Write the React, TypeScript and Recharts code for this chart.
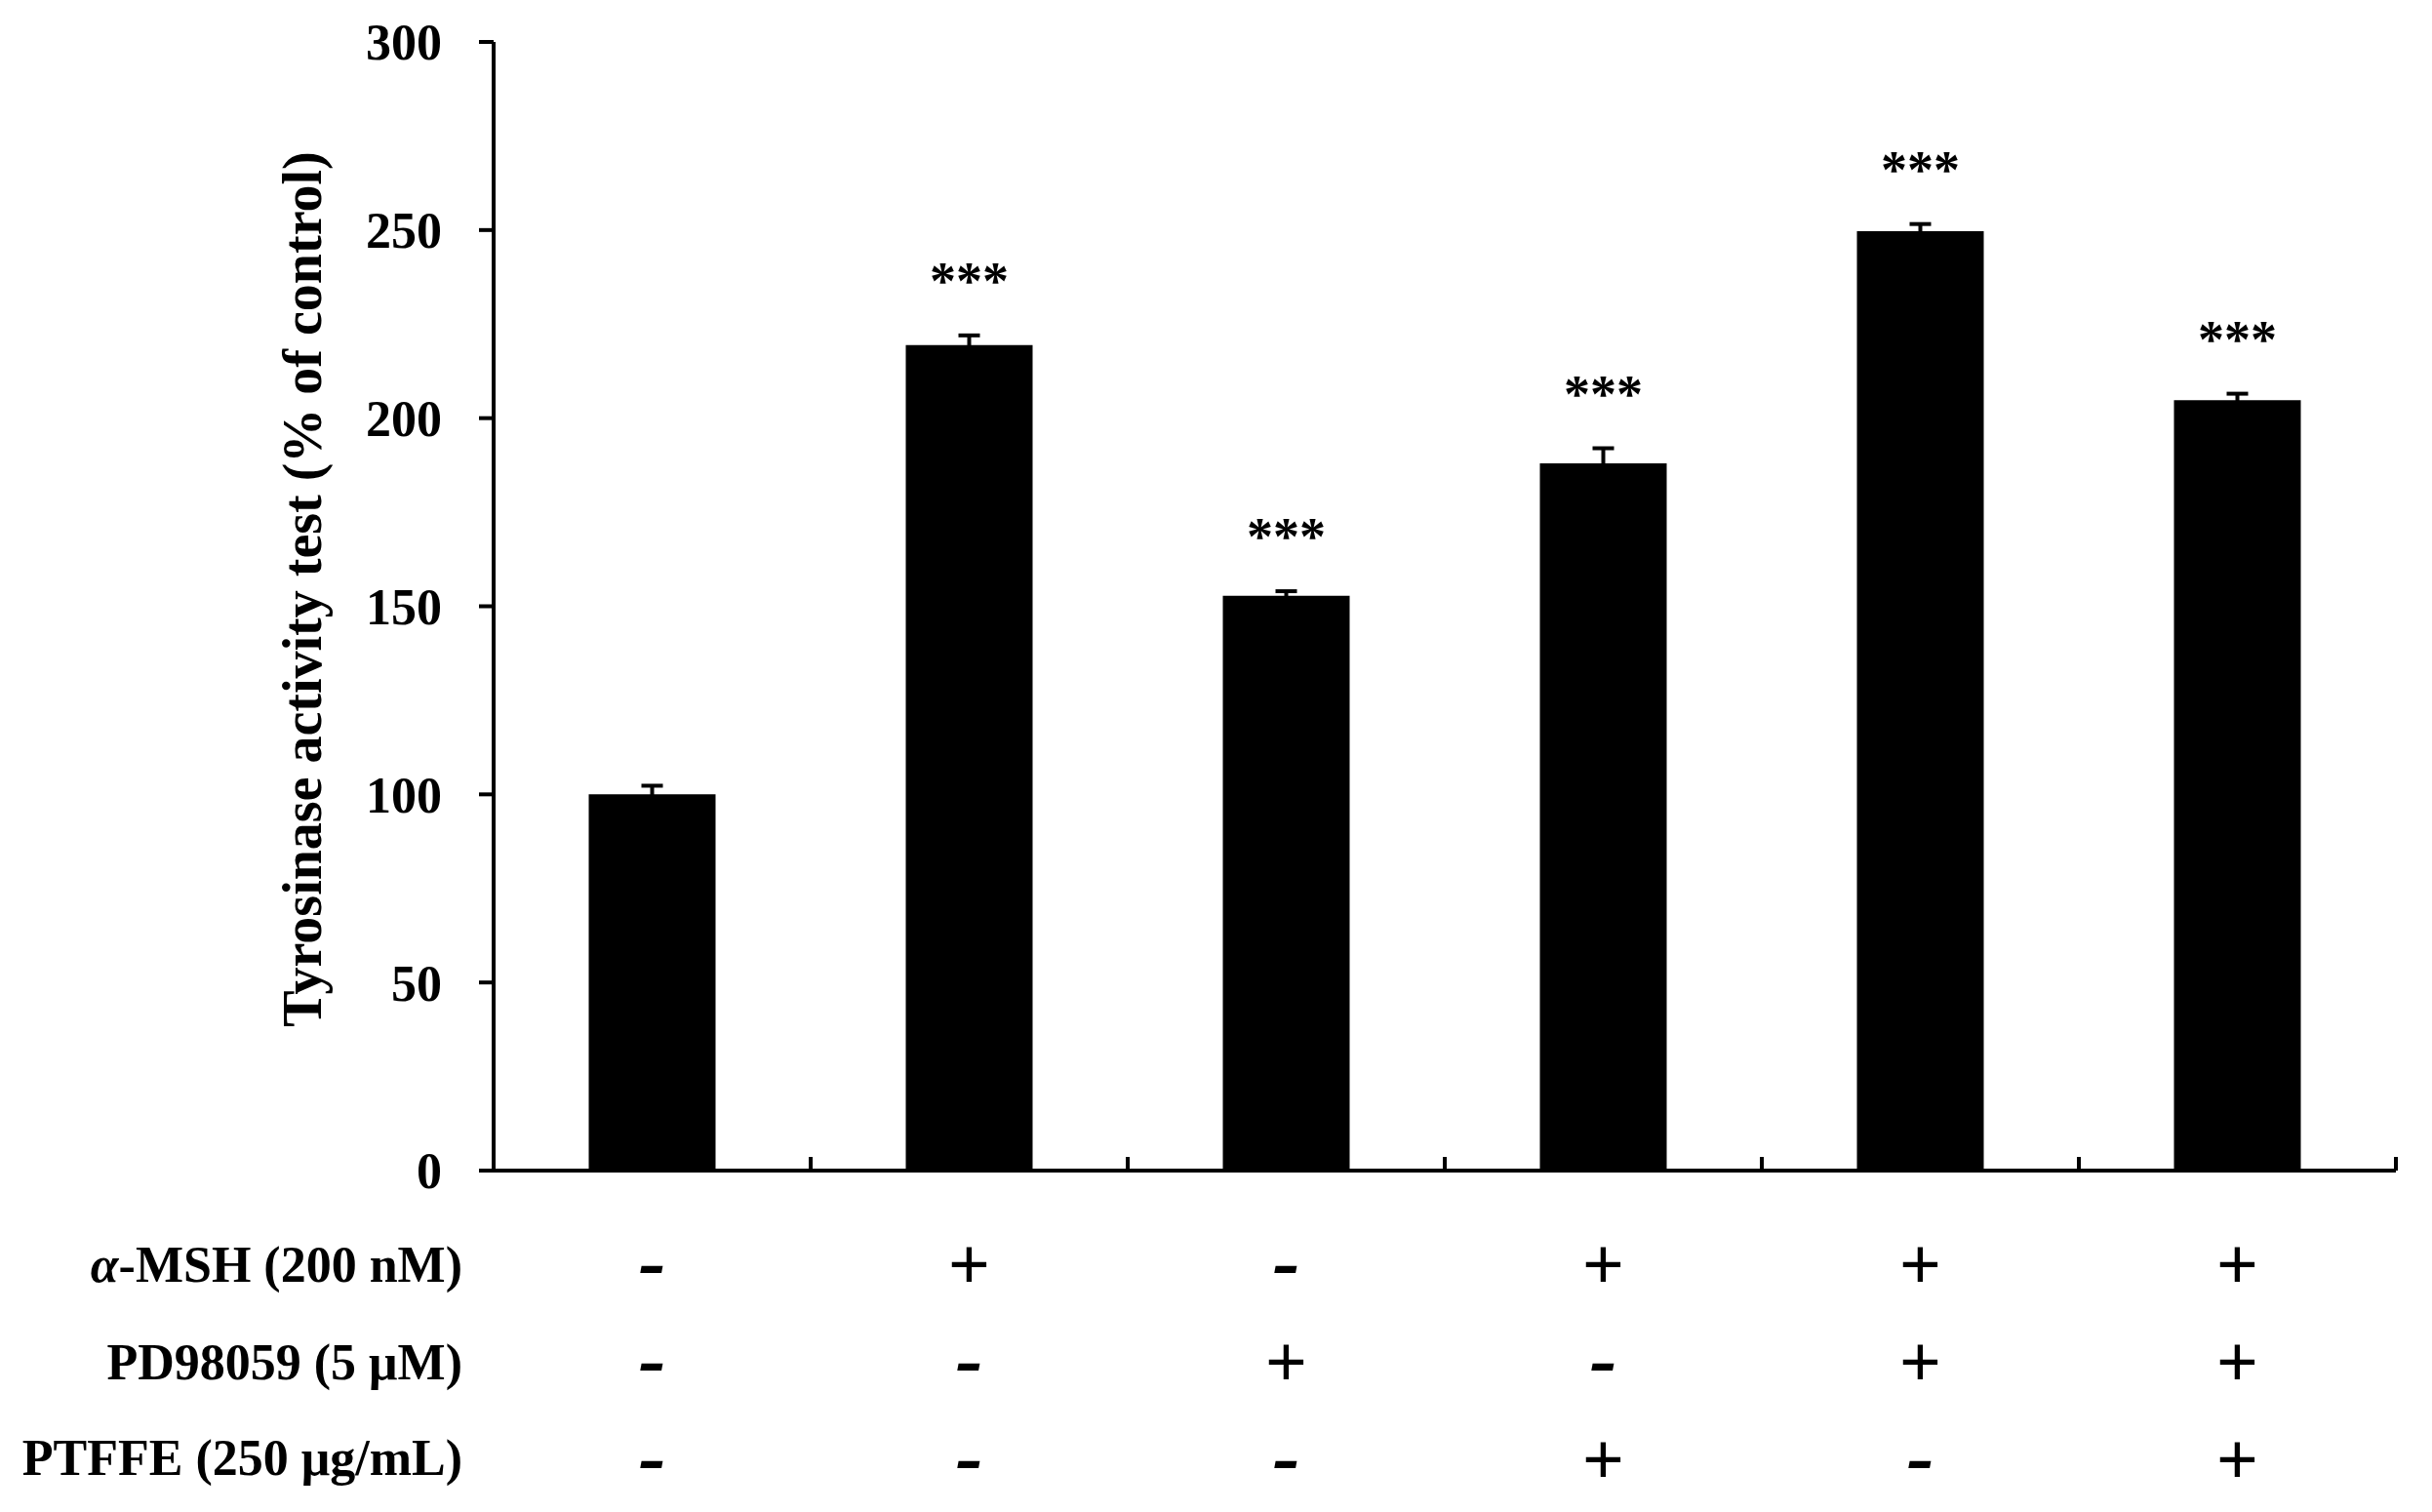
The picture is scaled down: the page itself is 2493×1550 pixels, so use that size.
import React from "react";
import {
  BarChart,
  Bar,
  XAxis,
  YAxis,
  ErrorBar,
  LabelList,
  Label,
} from "recharts";

const groups = ["1", "2", "3", "4", "5", "6"];
const activity = [100, 219.4, 152.8, 188, 249.7, 204.8];
const sem = [2.3, 2.6, 1.2, 4, 1.9, 1.7];
const signif = ["", "***", "***", "***", "***", "***"];

const msh = ["-", "+", "-", "+", "+", "+"];
const pd98059 = ["-", "-", "+", "-", "+", "+"];
const ptffe = ["-", "-", "-", "+", "-", "+"];

const yTicks = [0, 50, 100, 150, 200, 250, 300];

const data = groups.map((g, i) => ({
  group: g,
  activity: activity[i],
  sem: sem[i],
  sig: signif[i],
  msh: msh[i],
  pd: pd98059[i],
  ptffe: ptffe[i],
}));

const FONT = '"Liberation Serif", "Times New Roman", serif';

// tick marks sit on the category borders and point up into the plot
const BorderTick = (props: any) => {
  const { x, y, payload, index } = props;
  const half = payload && payload.offset ? payload.offset : 162.5;
  return (
    <g>
      <line x1={x - half} x2={x - half} y1={y} y2={y - 14} stroke="#000" strokeWidth={4} />
      {index === groups.length - 1 && (
        <line x1={x + half} x2={x + half} y1={y} y2={y - 14} stroke="#000" strokeWidth={4} />
      )}
    </g>
  );
};

const SignTick = (props: any) => {
  const { x, y, payload } = props;
  const plus = payload.value === "+";
  return (
    <text
      x={x}
      y={y + (plus ? 42 : 38)}
      textAnchor="middle"
      dominantBaseline="central"
      fontFamily={FONT}
      fontWeight={700}
      fontStyle={plus ? "normal" : "italic"}
      fontSize={plus ? 76 : 84}
      fill="#000"
    >
      {payload.value}
    </text>
  );
};

const rowTitle = (title: React.ReactNode) => (props: any) => {
  const vb = props.viewBox || {};
  return (
    <text
      x={vb.x - 32}
      y={vb.y + vb.height / 2}
      textAnchor="end"
      dominantBaseline="central"
      fontFamily={FONT}
      fontWeight={700}
      fontSize={52}
      fill="#000"
    >
      {title}
    </text>
  );
};

const Stars = (props: any) => {
  const { x, y, width, height, value, index } = props;
  if (!value) return null;
  const errPx = (sem[index] * height) / activity[index];
  return (
    <text
      x={x + width / 2}
      y={y - errPx - 38}
      textAnchor="middle"
      fontFamily={FONT}
      fontWeight={700}
      fontSize={54}
      fill="#000"
    >
      {value}
    </text>
  );
};

export default function App() {
  return (
    <div style={{ width: 2477, height: 1534, background: "#fff" }}>
      <BarChart
        width={2477}
        height={1534}
        data={data}
        margin={{ top: 35, right: 29, left: 0, bottom: 0 }}
        barCategoryGap="30%"
      >
        <YAxis
          width={498}
          domain={[0, 300]}
          ticks={yTicks}
          interval={0}
          axisLine={{ stroke: "#000", strokeWidth: 4 }}
          tickLine={{ stroke: "#000", strokeWidth: 4 }}
          tickSize={15}
          tickMargin={38}
          tick={{ fontFamily: FONT, fontWeight: 700, fontSize: 52, fill: "#000" }}
        >
          <Label
            content={() => (
              <text
                transform="translate(302, 596) rotate(-90)"
                textAnchor="middle"
                dominantBaseline="central"
                fontFamily={FONT}
                fontWeight={700}
                fontSize={56}
                fill="#000"
              >
                Tyrosinase activity test (% of control)
              </text>
            )}
          />
        </YAxis>
        <XAxis
          xAxisId={0}
          dataKey="group"
          height={46}
          interval={0}
          tickLine={false}
          tickSize={0}
          tickMargin={0}
          axisLine={{ stroke: "#000", strokeWidth: 4 }}
          tick={<BorderTick />}
        />
        <XAxis
          xAxisId="msh"
          dataKey="msh"
          height={100}
          interval={0}
          axisLine={false}
          tickLine={false}
          tick={<SignTick />}
        >
          <Label
            content={rowTitle(
              <>
                <tspan fontStyle="italic">α</tspan>-MSH (200 nM)
              </>
            )}
          />
        </XAxis>
        <XAxis
          xAxisId="pd"
          dataKey="pd"
          height={100}
          interval={0}
          axisLine={false}
          tickLine={false}
          tick={<SignTick />}
        >
          <Label content={rowTitle("PD98059 (5 μM)")} />
        </XAxis>
        <XAxis
          xAxisId="ptffe"
          dataKey="ptffe"
          height={96}
          interval={0}
          axisLine={false}
          tickLine={false}
          tick={<SignTick />}
        >
          <Label content={rowTitle("PTFFE (250 μg/mL)")} />
        </XAxis>
        <Bar dataKey="activity" xAxisId={0} fill="#000" isAnimationActive={false}>
          <ErrorBar
            dataKey="sem"
            direction="y"
            width={11}
            stroke="#000"
            strokeWidth={4}
            isAnimationActive={false}
          />
          <LabelList dataKey="sig" content={<Stars />} />
        </Bar>
      </BarChart>
    </div>
  );
}
